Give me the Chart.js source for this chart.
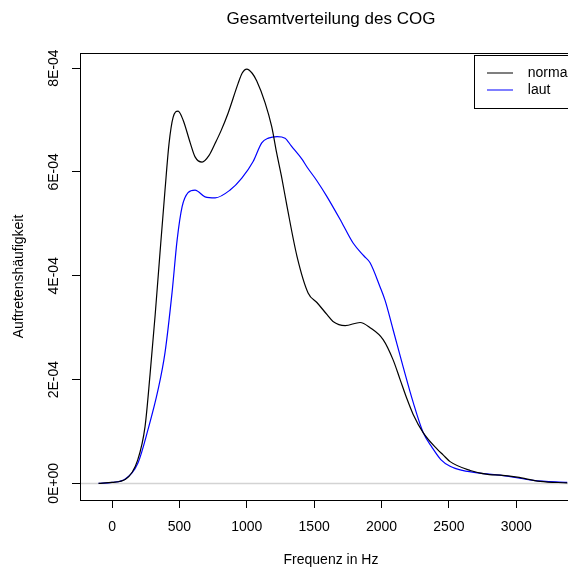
<!DOCTYPE html>
<html>
<head>
<meta charset="utf-8">
<script src="https://cdn.jsdelivr.net/npm/chart.js@4/dist/chart.umd.min.js"></script>
<style>
  html, body { margin: 0; padding: 0; overflow: hidden; background: #fff; }
  #cog { display: block; }
</style>
</head>
<body>
<canvas id="cog" width="600" height="569"></canvas>
<script>
// Dichtekurven (Hz / Dichte)
const normalHz = [-100, 0, 100, 190, 245, 282, 320, 356, 393, 423, 453, 490, 527, 580, 616, 668,
  720, 765, 810, 861, 935, 965, 1000, 1040, 1074, 1136, 1185, 1222, 1260, 1299, 1373, 1455, 1522, 1596, 1640,
  1730, 1841, 1915, 2012, 2086, 2138, 2190, 2235, 2309, 2413, 2457, 2509, 2658, 2800, 2880, 3007, 3177, 3378];
const normalDens = [0, 0.000002, 0.000008, 0.000045, 0.00011, 0.00021, 0.000325, 0.000445, 0.000565, 0.000655,
  0.000705, 0.000717, 0.0007, 0.000656, 0.000629, 0.000619,
  0.000632, 0.000655, 0.00068, 0.000713, 0.00077, 0.00079, 0.000798, 0.00079, 0.000775, 0.000733, 0.000687, 0.000636,
  0.000588, 0.000533, 0.000437, 0.000367, 0.000348, 0.000325, 0.000312,
  0.000304, 0.00031, 0.0003, 0.000277, 0.000238, 0.0002, 0.000162, 0.000133, 0.000098, 0.000066,
  0.000055, 0.000042, 0.000025, 0.000017, 0.000016, 0.000012, 0.000004, 0.000001];

const lautHz = [-100, 0, 100, 193, 267, 341, 393, 445, 483, 520, 564, 616, 690, 765, 876, 963,
  1047, 1111, 1160, 1225, 1284, 1330, 1408, 1448, 1520, 1596, 1700, 1789, 1870, 1915, 1990, 2027, 2086, 2160, 2235,
  2309, 2376, 2440, 2509, 2600, 2754, 2880, 2955, 3125, 3378];
const lautDens = [0, 0.000002, 0.000009, 0.00004, 0.000104, 0.00018, 0.000252, 0.000367, 0.000469,
  0.000533, 0.00056, 0.000565, 0.000552, 0.00055, 0.000565, 0.000588,
  0.00062, 0.000656, 0.000665, 0.000668, 0.000665, 0.00065, 0.000625, 0.000609, 0.000583, 0.000552, 0.000505,
  0.000463, 0.000438, 0.000425, 0.000378, 0.000352, 0.000296, 0.000225, 0.000156,
  0.000098, 0.000069, 0.000046, 0.000033, 0.000025, 0.000019, 0.000016, 0.000013, 0.000006, 0.000002];

const seriesNames = ['normal', 'laut'];
const seriesColors = ['#000000', '#0000ff'];

const xTicks = [0, 500, 1000, 1500, 2000, 2500, 3000];
const xTickLabels = ['0', '500', '1000', '1500', '2000', '2500', '3000'];
const yTicks = [0, 0.0002, 0.0004, 0.0006, 0.0008];
const yTickLabels = ['0E+00', '2E-04', '4E-04', '6E-04', '8E-04'];

const xRange = [-238, 3488];
const yRange = [-0.0000319, 0.000829];

Chart.defaults.font.family = '"Liberation Sans", Arial, sans-serif';
Chart.defaults.color = '#000';

function toPoints(xs, ys) {
  return xs.map((x, i) => ({ x: x, y: ys[i] }));
}

// R-artiger Rahmen um Plot und Legende
const framePlugin = {
  id: 'frame',
  afterLayout(chart) {
    const lg = chart.legend;
    const a = chart.chartArea;
    lg.left = a.right - 98;
    lg.top = a.top + 10;
    lg.right = lg.left + lg.width;
    lg.bottom = lg.top + lg.height;
  },
  afterDraw(chart) {
    const ctx = chart.ctx;
    const a = chart.chartArea;
    ctx.save();
    ctx.strokeStyle = '#000';
    ctx.lineWidth = 1;
    ctx.strokeRect(a.left + 0.5, a.top + 0.5, a.right - a.left, a.bottom - a.top);
    ctx.strokeRect(a.right - 108 + 0.5, a.top + 2 + 0.5, 108, 53);
    ctx.restore();
  }
};

const datasets = [
  {
    label: seriesNames[0],
    data: toPoints(normalHz, normalDens),
    borderColor: seriesColors[0],
    borderWidth: 1.2,
    pointRadius: 0,
    cubicInterpolationMode: 'monotone'
  },
  {
    label: seriesNames[1],
    data: toPoints(lautHz, lautDens),
    borderColor: seriesColors[1],
    borderWidth: 1.2,
    pointRadius: 0,
    cubicInterpolationMode: 'monotone'
  },
  {
    label: 'zero',
    data: [{ x: xRange[0], y: 0 }, { x: xRange[1], y: 0 }],
    borderColor: '#d3d3d3',
    borderWidth: 1.5,
    pointRadius: 0,
    order: 1
  }
];

new Chart(document.getElementById('cog'), {
  type: 'line',
  data: { datasets: datasets },
  options: {
    responsive: false,
    animation: false,
    devicePixelRatio: 1,
    layout: { padding: { left: 0, right: 18, top: 0, bottom: 0 } },
    plugins: {
      tooltip: { enabled: false },
      title: {
        display: true,
        text: 'Gesamtverteilung des COG',
        fullSize: false,
        color: '#000',
        font: { size: 17, weight: 'normal' },
        padding: { top: 9, bottom: 23.6 }
      },
      legend: {
        position: 'chartArea',
        align: 'start',
        labels: {
          usePointStyle: true,
          pointStyle: 'line',
          pointStyleWidth: 26,
          padding: 3,
          color: '#000',
          font: { size: 14 },
          generateLabels(chart) {
            return Chart.defaults.plugins.legend.labels.generateLabels(chart)
              .filter(item => item.datasetIndex < 2)
              .map(item => Object.assign(item, { text: '  ' + item.text }));
          }
        }
      }
    },
    scales: {
      x: {
        type: 'linear',
        min: xRange[0],
        max: xRange[1],
        afterBuildTicks(scale) { scale.ticks = xTicks.map(v => ({ value: v })); },
        afterFit(scale) { scale.height = 69; },
        grid: { drawOnChartArea: false, drawTicks: true, tickLength: 8, color: '#000' },
        border: { display: true, color: '#000', width: 1 },
        ticks: {
          autoSkip: false,
          maxRotation: 0,
          padding: 11,
          font: { size: 14 },
          color: '#000',
          callback: (v, i) => xTickLabels[i]
        },
        title: {
          display: true,
          text: 'Frequenz in Hz',
          color: '#000',
          font: { size: 14 },
          padding: { top: 0, bottom: 0 }
        }
      },
      y: {
        type: 'linear',
        min: yRange[0],
        max: yRange[1],
        afterBuildTicks(scale) { scale.ticks = yTicks.map(v => ({ value: v })); },
        afterFit(scale) { scale.width = 80; },
        grid: { drawOnChartArea: false, drawTicks: true, tickLength: 8, color: '#000' },
        border: { display: true, color: '#000', width: 1 },
        ticks: {
          autoSkip: false,
          minRotation: 90,
          maxRotation: 90,
          crossAlign: 'center',
          padding: -3,
          font: { size: 14 },
          color: '#000',
          callback: (v, i) => yTickLabels[i]
        },
        title: {
          display: true,
          text: 'Auftretenshäufigkeit',
          color: '#000',
          font: { size: 14 },
          padding: { top: 11, bottom: 0 }
        }
      }
    }
  },
  plugins: [framePlugin]
});
</script>
</body>
</html>
